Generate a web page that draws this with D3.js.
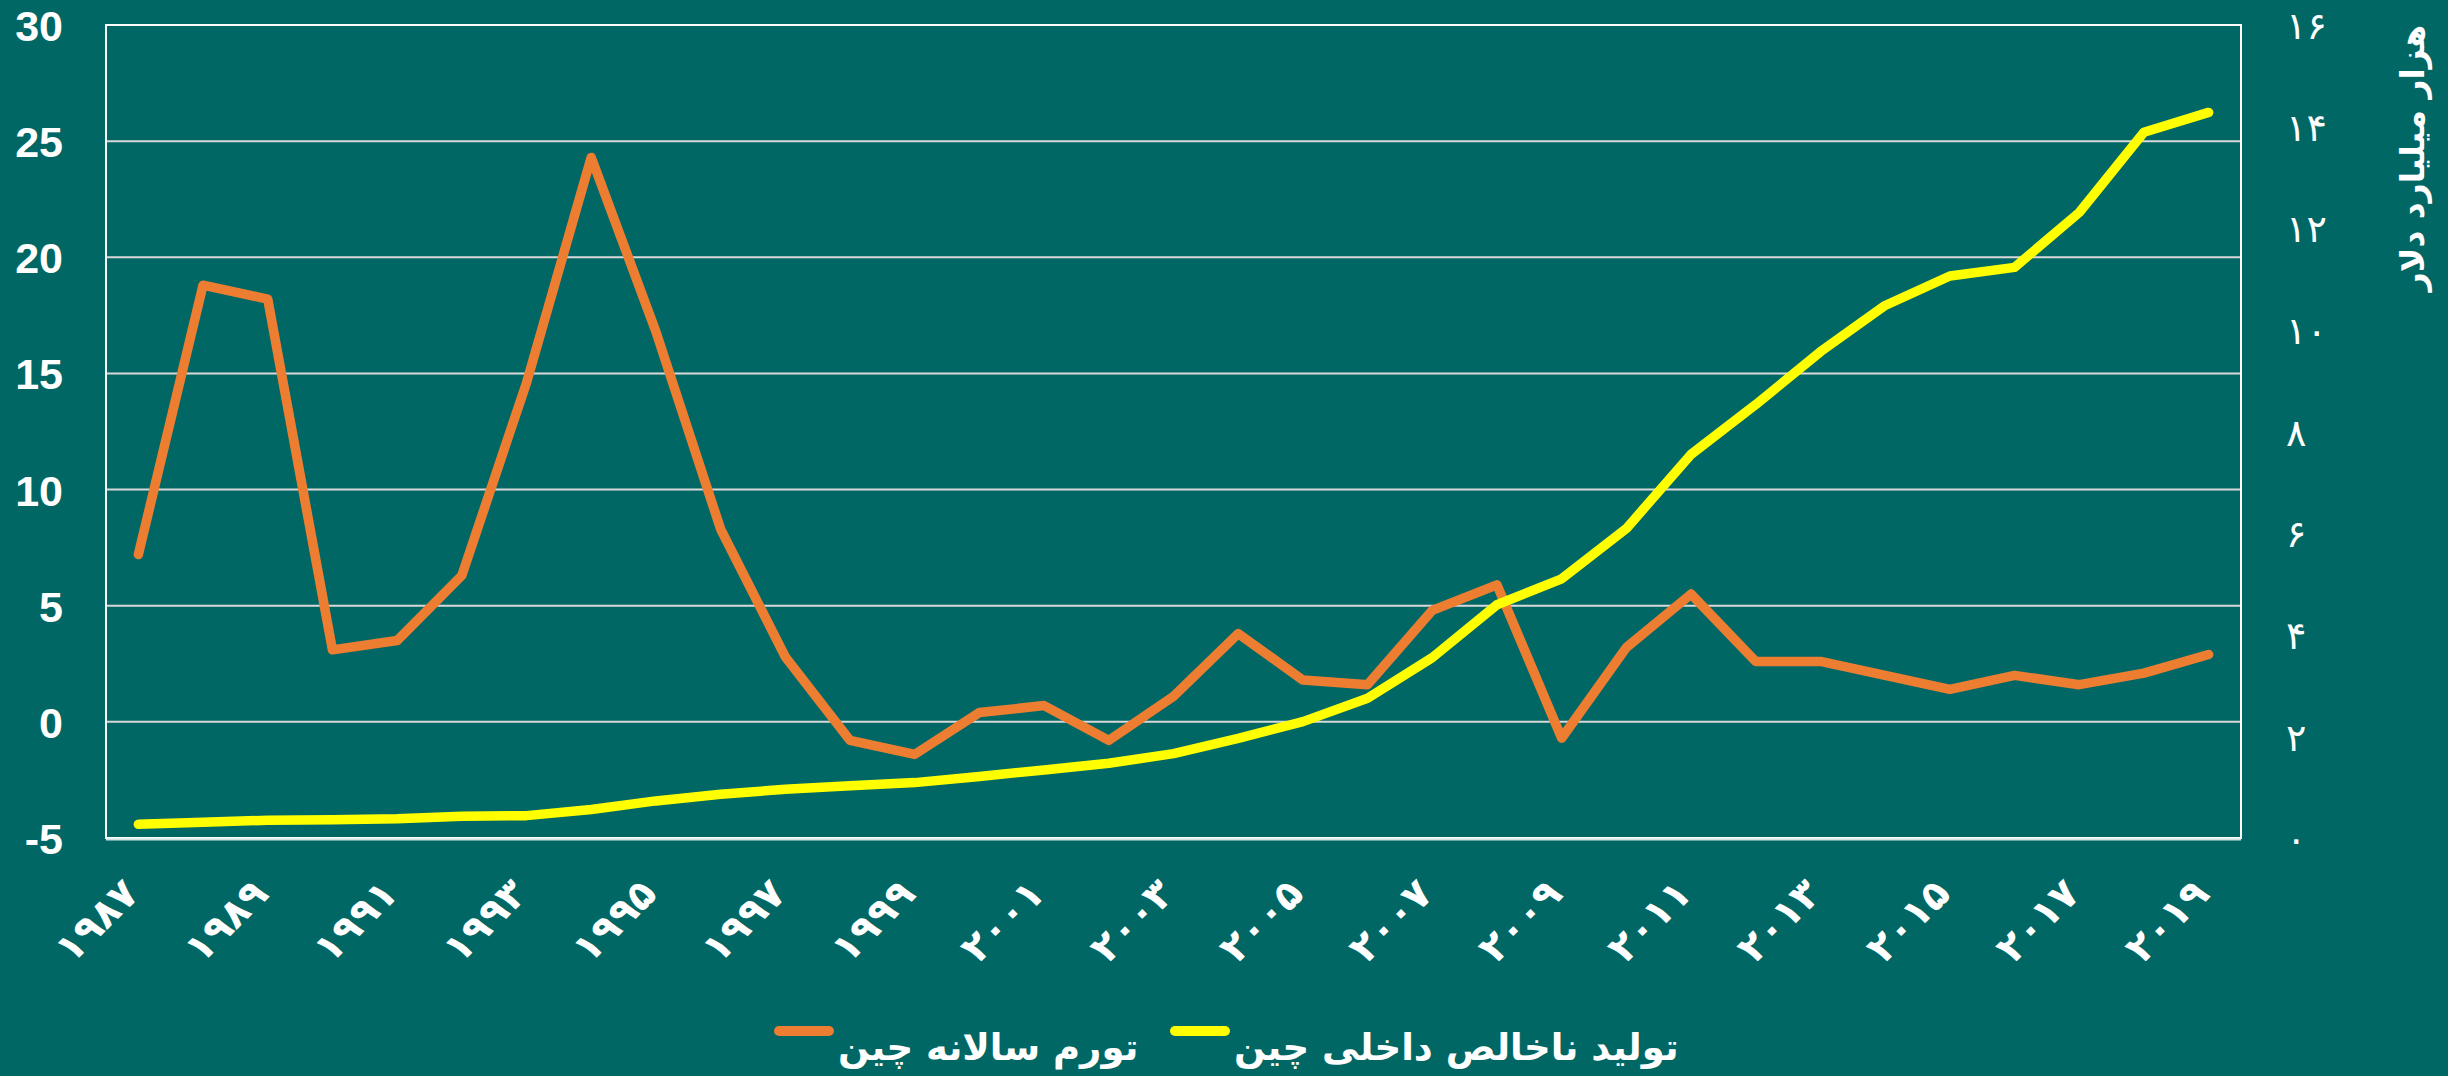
<!DOCTYPE html>
<html>
<head>
<meta charset="utf-8">
<script src="https://cdn.jsdelivr.net/npm/d3@7"></script>
<style>
  html, body { margin: 0; padding: 0; background: #006764; }
  svg { display: block; }
</style>
</head>
<body>
<div id="chart"></div>
<script>
// years on the x axis
var years = [1987, 1988, 1989, 1990, 1991, 1992, 1993, 1994, 1995, 1996, 1997,
    1998, 1999, 2000, 2001, 2002, 2003, 2004, 2005, 2006, 2007, 2008, 2009,
    2010, 2011, 2012, 2013, 2014, 2015, 2016, 2017, 2018, 2019];

// annual inflation of China, percent (left axis)
var inflation = [7.2, 18.8, 18.2, 3.1, 3.5, 6.3, 14.6, 24.3, 16.8, 8.3, 2.8,
    -0.8, -1.4, 0.4, 0.7, -0.8, 1.1, 3.8, 1.8, 1.6, 4.8, 5.9, -0.7,
    3.2, 5.5, 2.6, 2.6, 2.0, 1.4, 2.0, 1.6, 2.1, 2.9];

// GDP of China, thousand billion dollars (right axis)
var gdp = [0.27, 0.31, 0.35, 0.36, 0.38, 0.43, 0.44, 0.56, 0.73, 0.86, 0.96,
    1.03, 1.09, 1.21, 1.34, 1.47, 1.66, 1.96, 2.29, 2.75, 3.55, 4.59, 5.10,
    6.09, 7.55, 8.53, 9.57, 10.48, 11.06, 11.23, 12.31, 13.89, 14.28];

var leftTicks = [-5, 0, 5, 10, 15, 20, 25, 30];
var rightTicks = [0, 2, 4, 6, 8, 10, 12, 14, 16];
var xTickYears = [1987, 1989, 1991, 1993, 1995, 1997, 1999, 2001, 2003, 2005,
    2007, 2009, 2011, 2013, 2015, 2017, 2019];

var seriesNames = ["تولید ناخالص داخلی چین", "تورم سالانه چین"];
var rightTitle = "هزار میلیارد دلار";

var faDigits = "۰۱۲۳۴۵۶۷۸۹";
var toFa = function (n) {
    return String(n).replace(/[0-9]/g, function (d) { return faDigits[+d]; });
};

var W = 2448, H = 1076;
var plotLeft = 106, plotRight = 2241, plotTop = 25, plotBottom = 838;

var svg = d3.select("#chart").append("svg")
    .attr("width", W)
    .attr("height", H);

svg.append("rect")
    .attr("width", W).attr("height", H)
    .attr("fill", "#006764");

var x = d3.scalePoint()
    .domain(years)
    .range([plotLeft, plotRight])
    .padding(0.5);

var yL = d3.scaleLinear().domain([-5, 30]).range([plotBottom, plotTop]);
var yR = d3.scaleLinear().domain([0, 16]).range([plotBottom, plotTop]);

// grid lines
svg.append("g")
    .selectAll("line")
    .data(leftTicks)
    .enter()
    .append("line")
    .attr("x1", plotLeft).attr("x2", plotRight)
    .attr("y1", function (d) { return yL(d); })
    .attr("y2", function (d) { return yL(d); })
    .attr("stroke", "#d9d9d9")
    .attr("stroke-width", 2);

// frame
svg.append("rect")
    .attr("x", plotLeft).attr("y", plotTop)
    .attr("width", plotRight - plotLeft).attr("height", plotBottom - plotTop)
    .attr("fill", "none")
    .attr("stroke", "#ffffff")
    .attr("stroke-width", 2);
svg.append("line")
    .attr("x1", plotLeft).attr("x2", plotRight)
    .attr("y1", plotBottom + 1.5).attr("y2", plotBottom + 1.5)
    .attr("stroke", "#cfe3e2")
    .attr("stroke-width", 2);

// left axis labels
var axL = d3.axisLeft(yL).tickValues(leftTicks).tickSize(0).tickPadding(0)
    .tickFormat(function (d) { return String(d); });
var gL = svg.append("g")
    .attr("transform", "translate(63,0)")
    .call(axL);
gL.select(".domain").remove();
gL.selectAll("text")
    .attr("fill", "#ffffff")
    .attr("font-family", "'Liberation Sans', Arial, sans-serif")
    .attr("font-weight", "bold")
    .attr("font-size", 43)
    .attr("dy", "0.36em");

// right axis labels
var axR = d3.axisRight(yR).tickValues(rightTicks).tickSize(0).tickPadding(0)
    .tickFormat(toFa);
var gR = svg.append("g")
    .attr("transform", "translate(2286,0)")
    .call(axR);
gR.select(".domain").remove();
gR.selectAll("text")
    .attr("fill", "#ffffff")
    .attr("font-family", "'DejaVu Sans', sans-serif")
    .attr("font-size", 38)
    .attr("letter-spacing", 8)
    .attr("dy", "0.36em");

// right axis title
svg.append("text")
    .attr("transform", "translate(2424,158) rotate(-90)")
    .attr("text-anchor", "middle")
    .attr("fill", "#ffffff")
    .attr("font-family", "'DejaVu Sans', sans-serif")
    .attr("font-weight", "bold")
    .attr("font-size", 33)
    .text(rightTitle);

// x axis labels
var axX = d3.axisBottom(x).tickValues(xTickYears).tickSize(0).tickPadding(0)
    .tickFormat(toFa);
var gX = svg.append("g")
    .attr("transform", "translate(0," + plotBottom + ")")
    .call(axX);
gX.select(".domain").remove();
gX.selectAll("text")
    .attr("fill", "#ffffff")
    .attr("font-family", "'DejaVu Sans', sans-serif")
    .attr("font-weight", "bold")
    .attr("font-size", 40)
    .attr("letter-spacing", 13)
    .attr("text-anchor", "end")
    .attr("dy", 0)
    .attr("y", 0)
    .attr("transform", "translate(2,58) rotate(-45)");

// series lines
var lineL = d3.line()
    .x(function (d, i) { return x(years[i]); })
    .y(function (d) { return yL(d); });
var lineR = d3.line()
    .x(function (d, i) { return x(years[i]); })
    .y(function (d) { return yR(d); });

svg.append("path")
    .datum(inflation)
    .attr("d", lineL)
    .attr("fill", "none")
    .attr("stroke", "#ed7d31")
    .attr("stroke-width", 9.5)
    .attr("stroke-linejoin", "round")
    .attr("stroke-linecap", "round");

svg.append("path")
    .datum(gdp)
    .attr("d", lineR)
    .attr("fill", "none")
    .attr("stroke", "#ffff00")
    .attr("stroke-width", 9.5)
    .attr("stroke-linejoin", "round")
    .attr("stroke-linecap", "round");

// legend
var legendItems = [
    {name: seriesNames[1], color: "#ed7d31", x: 774},
    {name: seriesNames[0], color: "#ffff00", x: 1170}
];
var lg = svg.append("g");
legendItems.forEach(function (it) {
    lg.append("line")
        .attr("x1", it.x + 5).attr("x2", it.x + 55)
        .attr("y1", 1031).attr("y2", 1031)
        .attr("stroke", it.color)
        .attr("stroke-width", 10)
        .attr("stroke-linecap", "round");
    lg.append("text")
        .attr("x", it.x + 64)
        .attr("y", 1060)
        .attr("fill", "#ffffff")
        .attr("font-family", "'DejaVu Sans', sans-serif")
        .attr("font-weight", "bold")
        .attr("font-size", 37)
        .text(it.name);
});
</script>
</body>
</html>
